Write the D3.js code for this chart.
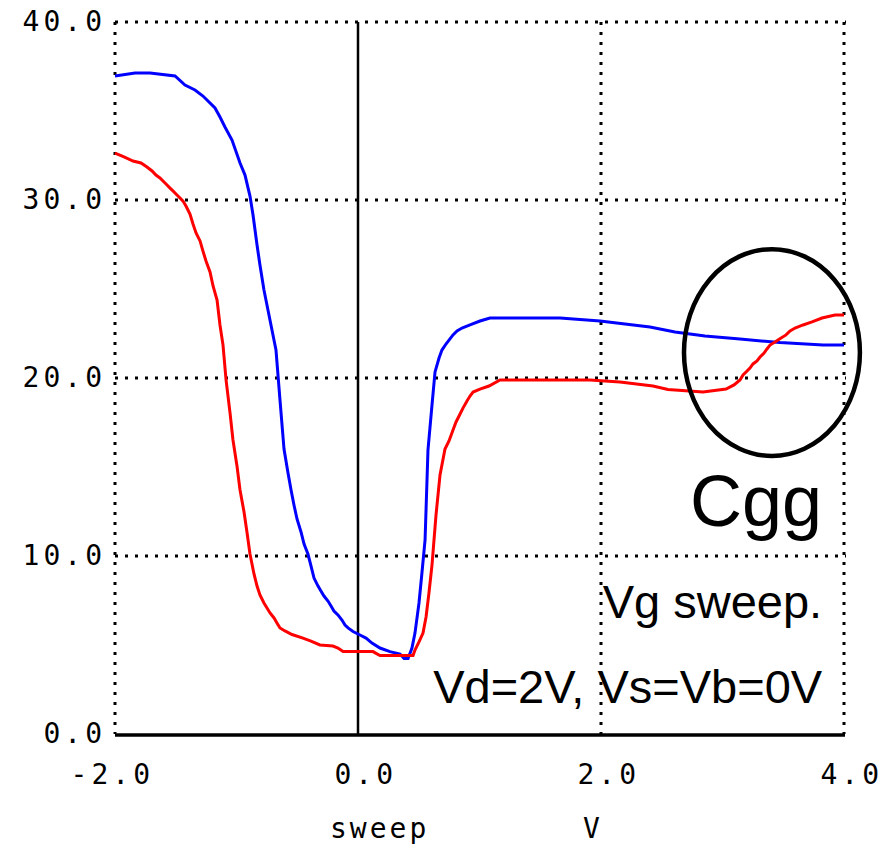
<!DOCTYPE html>
<html>
<head>
<meta charset="utf-8">
<script src="https://cdn.jsdelivr.net/npm/d3@7"></script>
<style>
  html, body { margin: 0; padding: 0; background: #fff; }
  svg { display: block; }
</style>
</head>
<body>
<svg id="chart" width="893" height="847"></svg>
<script>
// ---- data ----
const xTicks = [-2, 0, 2, 4];
const xTickLabels = ["-2.0", "0.0", "2.0", "4.0"];
const yTicks = [0, 10, 20, 30, 40];
const yTickLabels = ["0.0", "10.0", "20.0", "30.0", "40.0"];
const xTitle = "sweep";
const xUnit = "V";

// blue curve (Vg, C)
const blueX = [-2.00,-1.835,-1.712,-1.506,-1.424,-1.342,-1.276,-1.177,-1.136,-1.095,-1.037,-0.971,-0.930,-0.889,-0.864,-0.831,-0.807,-0.774,-0.741,-0.708,-0.675,-0.642,-0.609,-0.576,-0.551,-0.527,-0.502,-0.469,-0.444,-0.412,-0.387,-0.362,-0.329,-0.305,-0.280,-0.247,-0.222,-0.198,-0.165,-0.132,-0.107,-0.082,-0.041,0.016,0.066,0.115,0.181,0.263,0.346,0.379,0.412,0.444,0.469,0.502,0.527,0.552,0.576,0.609,0.634,0.667,0.691,0.724,0.749,0.782,0.815,0.856,0.922,1.004,1.086,1.663,1.992,2.403,2.609,2.856,3.144,3.473,3.827,4.00];
const blueY = [36.97,37.13,37.13,36.97,36.46,36.18,35.84,35.17,34.66,34.10,33.37,32.08,31.40,30.22,29.16,27.47,26.35,24.94,23.82,22.70,21.57,18.76,16.01,14.66,13.71,12.87,12.08,11.35,10.67,10.11,9.44,8.76,8.31,8.03,7.75,7.47,7.19,6.91,6.69,6.40,6.12,5.96,5.76,5.56,5.39,5.11,4.83,4.63,4.49,4.24,4.24,4.83,5.67,7.36,9.10,10.90,15.96,18.48,20.34,21.12,21.57,21.91,22.13,22.42,22.64,22.81,22.98,23.20,23.37,23.37,23.20,22.87,22.58,22.36,22.19,21.99,21.85,21.85];

// red curve
const redX = [-2.00,-1.926,-1.852,-1.786,-1.737,-1.695,-1.663,-1.630,-1.605,-1.580,-1.547,-1.523,-1.498,-1.465,-1.440,-1.416,-1.383,-1.358,-1.333,-1.300,-1.276,-1.251,-1.218,-1.193,-1.160,-1.136,-1.111,-1.086,-1.053,-1.029,-0.996,-0.971,-0.938,-0.914,-0.889,-0.856,-0.831,-0.807,-0.774,-0.749,-0.724,-0.691,-0.667,-0.642,-0.601,-0.543,-0.453,-0.387,-0.313,-0.206,-0.165,-0.123,0.123,0.181,0.453,0.469,0.502,0.535,0.560,0.584,0.609,0.642,0.675,0.716,0.749,0.782,0.807,0.840,0.864,0.897,0.922,0.947,1.004,1.078,1.169,1.909,2.156,2.428,2.551,2.840,3.029,3.095,3.144,3.169,3.202,3.226,3.251,3.284,3.309,3.342,3.366,3.391,3.432,3.482,3.523,3.556,3.597,3.663,3.737,3.819,3.926,4.00];
const redY = [32.64,32.42,32.19,32.08,31.85,31.63,31.40,31.24,31.07,30.90,30.67,30.51,30.34,30.11,29.94,29.66,29.21,28.65,28.15,27.70,27.13,26.57,25.96,25.17,24.38,22.98,21.85,19.89,18.03,16.52,15.06,13.71,12.47,11.35,10.11,8.99,8.31,7.81,7.36,7.08,6.80,6.52,6.24,5.96,5.79,5.59,5.39,5.22,5.00,4.94,4.83,4.63,4.63,4.41,4.41,4.72,5.17,5.67,6.57,7.92,9.49,12.30,14.55,16.01,16.46,17.08,17.53,17.98,18.31,18.71,18.99,19.21,19.38,19.55,19.89,19.89,19.78,19.55,19.35,19.21,19.38,19.61,19.89,20.17,20.39,20.56,20.79,20.96,21.18,21.40,21.63,21.85,22.02,22.25,22.42,22.64,22.81,22.98,23.15,23.37,23.54,23.54];

// annotation (data units)
const ellipseCenter = [3.407, 21.43];
const ellipseRadii = [0.724, 5.81];
const notes = ["Cgg", "Vg sweep.", "Vd=2V, Vs=Vb=0V"];
const noteY = [11.7, 6.5, 1.75];
const noteX = 3.82;

// ---- layout ----
const svg = d3.select("#chart");
const x = d3.scaleLinear().domain([-2, 4]).range([115, 844]);
const y = d3.scaleLinear().domain([0, 40]).range([734, 22]);

const monoFont = "'DejaVu Sans Mono', 'Liberation Mono', monospace";
const sansFont = "'Liberation Sans', Arial, sans-serif";

// dotted grid
const grid = svg.append("g")
  .attr("stroke", "#000").attr("stroke-width", 3).attr("stroke-dasharray", "3,7");
yTicks.filter(t => t > 0).forEach(t => {
  grid.append("line")
    .attr("x1", x(-2)).attr("x2", x(4) + 2)
    .attr("y1", Math.round(y(t))).attr("y2", Math.round(y(t)));
});
[-2, 2, 4].forEach(t => {
  grid.append("line")
    .attr("x1", Math.round(x(t))).attr("x2", Math.round(x(t)))
    .attr("y1", y(40)).attr("y2", y(0));
});

// solid axes: bottom and x=0
svg.append("line")
  .attr("x1", x(-2)).attr("x2", x(4) + 1)
  .attr("y1", y(0) + 1).attr("y2", y(0) + 1)
  .attr("stroke", "#000").attr("stroke-width", 3.5);
svg.append("line")
  .attr("x1", x(0)).attr("x2", x(0))
  .attr("y1", y(40)).attr("y2", y(0))
  .attr("stroke", "#000").attr("stroke-width", 2.5);

// tick labels
const yAxisG = svg.append("g");
yTicks.forEach((t, i) => {
  yAxisG.append("text")
    .attr("x", 106).attr("y", y(t) + 9)
    .attr("text-anchor", "end")
    .attr("font-family", monoFont).attr("font-size", 28)
    .attr("letter-spacing", 4)
    .text(yTickLabels[i]);
});
const xAxisG = svg.append("g");
xTicks.forEach((t, i) => {
  xAxisG.append("text")
    .attr("x", x(t) + 39).attr("y", 784)
    .attr("text-anchor", "end")
    .attr("font-family", monoFont).attr("font-size", 28)
    .attr("letter-spacing", 4)
    .text(xTickLabels[i]);
});
svg.append("text")
  .attr("x", x(0) - 28).attr("y", 838)
  .attr("font-family", monoFont).attr("font-size", 28).attr("letter-spacing", 3)
  .text(xTitle);
svg.append("text")
  .attr("x", x(2) - 18).attr("y", 838)
  .attr("font-family", monoFont).attr("font-size", 28)
  .text(xUnit);

// curves
const line = d3.line().x(d => x(d[0])).y(d => y(d[1])).curve(d3.curveLinear);
const blueData = blueX.map((v, i) => [v, blueY[i]]);
const redData = redX.map((v, i) => [v, redY[i]]);
svg.append("path").datum(blueData).attr("d", line)
  .attr("fill", "none").attr("stroke", "#0000ff").attr("stroke-width", 3)
  .attr("stroke-linejoin", "miter");
svg.append("path").datum(redData).attr("d", line)
  .attr("fill", "none").attr("stroke", "#ff0000").attr("stroke-width", 3)
  .attr("stroke-linejoin", "miter");

// ellipse annotation
svg.append("ellipse")
  .attr("cx", x(ellipseCenter[0])).attr("cy", y(ellipseCenter[1]))
  .attr("rx", x(ellipseRadii[0]) - x(0)).attr("ry", y(0) - y(ellipseRadii[1]))
  .attr("fill", "none").attr("stroke", "#000").attr("stroke-width", 4.5);

// notes
const noteSizes = [72, 47, 47];
notes.forEach((n, i) => {
  svg.append("text")
    .attr("x", x(noteX)).attr("y", y(noteY[i]))
    .attr("text-anchor", "end")
    .attr("font-family", sansFont).attr("font-size", noteSizes[i])
    .text(n);
});
</script>
</body>
</html>
